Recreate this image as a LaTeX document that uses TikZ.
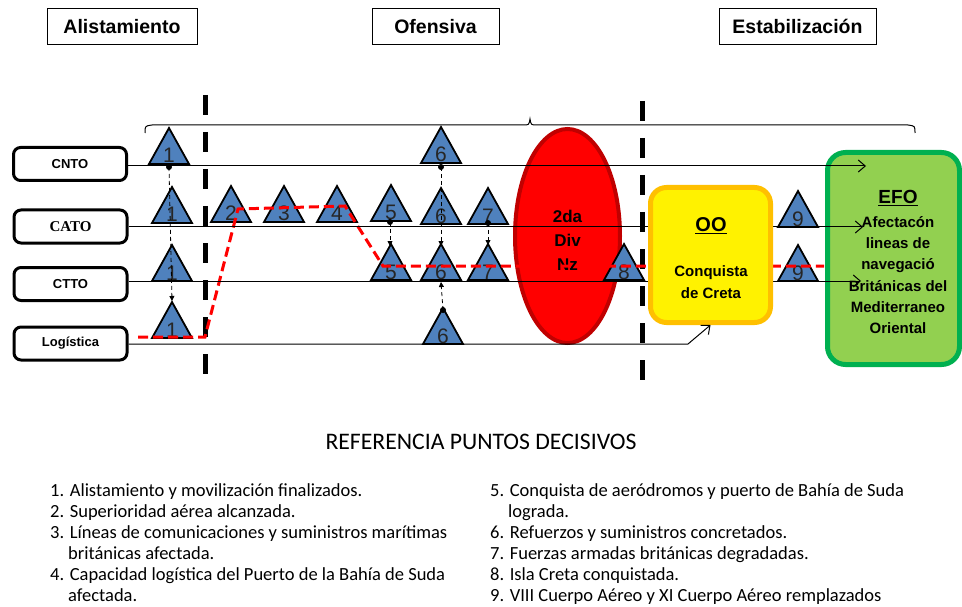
\documentclass[tikz,border=0pt]{standalone}
\usepackage{fontspec}
\setmainfont{Liberation Sans}
\newfontfamily\califont{Carlito}
\newfontfamily\timesfont{Liberation Serif}
\usetikzlibrary{shapes.geometric,arrows.meta}
\definecolor{triblue}{HTML}{4F81BD}
\definecolor{divborder}{HTML}{C00000}
\definecolor{oorange}{HTML}{FFC000}
\definecolor{efogreen}{HTML}{92D050}
\definecolor{efoborder}{HTML}{00B050}
\newcommand\dtri[4]{%
  \draw[tri] ({#1-20},#2) -- (#1,{#2-36}) -- ({#1+20},#2) -- cycle;
  \node[trinum] (#4) at (#1,{#2-1}) {#3};}
\begin{document}
\begin{tikzpicture}[x=1pt,y=-1pt,
  hdr/.style={draw=black, line width=0.8pt, fill=white, minimum height=36pt, inner sep=0pt, font=\fontsize{19.5}{23}\selectfont\bfseries},
  rowbox/.style={draw=black, line width=3pt, rounded corners=7pt, fill=white, minimum width=113pt, minimum height=33pt, inner sep=0pt, font=\fontsize{13}{15}\selectfont\bfseries},
  tri/.style={draw=black, line width=1.8pt, fill=triblue, line join=miter},
  trinum/.style={anchor=base, inner sep=0pt, font=\fontsize{21}{24}\selectfont, text=black!85},
  vdash/.style={line width=5pt, dash pattern=on 20pt off 17pt},
  reddash/.style={draw=red, line width=3pt, dash pattern=on 10pt off 5pt},
  rowline/.style={line width=1pt, -{Straight Barb[length=7pt,width=12pt]}},
  conn/.style={line width=0.8pt, dash pattern=on 4pt off 3pt, -{Triangle[length=5pt,width=5pt]}},
  dotpt/.style={circle, fill=black, inner sep=0pt, minimum size=6pt},
  listtxt/.style={anchor=base west, inner sep=0pt, font=\califont\fontsize{18.5}{22}\selectfont}
]
\useasboundingbox (0,0) rectangle (962,607);
\fill[white] (0,0) rectangle (962,607);

% header boxes
\node[hdr, minimum width=150pt] (hAli) at (122,26.5) {Alistamiento};
\node[hdr, minimum width=127pt] (hOfe) at (435.5,26.5) {Ofensiva};
\node[hdr, minimum width=157pt] (hEst) at (797.5,26.5) {Estabilización};

% brace
\draw[line width=1pt] (145,133) .. controls (145,126) .. (152,125) -- (523,125)
  .. controls (529,125) .. (530,119) .. controls (531,125) .. (537,125) -- (908,125)
  .. controls (915,126) .. (915,133);

% phase separators
\draw[vdash] (205,95) -- (205,381);
\draw[vdash] (642,101) -- (642,390);

% row boxes
\node[rowbox] (cnto) at (70,164) {CNTO};
\node[rowbox, font=\timesfont\fontsize{15}{17}\selectfont\bfseries] (cato) at (70.5,226.5) {CATO};
\node[rowbox] (ctto) at (70.5,284) {CTTO};
\node[rowbox] (logi) at (70.5,343.5) {Logística};

% ellipse
\node[ellipse, draw=divborder, line width=4pt, fill=red, minimum width=105pt, minimum height=214pt, inner sep=0pt] (div) at (567.5,236) {};
\node[align=center, inner sep=0pt, font=\fontsize{17}{24}\selectfont\bfseries] (divtxt) at (567.5,240) {2da\\Div\\Nz};

% EFO box
\node[draw=efoborder, line width=5pt, fill=efogreen, rounded corners=18pt, minimum width=132pt, minimum height=212pt] (efo) at (893.5,258.5) {};
\node[inner sep=0pt, font=\fontsize{19}{22}\selectfont\bfseries] (efotitle) at (898,198) {\underline{EFO}};
\node[align=center, inner sep=0pt, font=\fontsize{15}{21.2}\selectfont\bfseries] (efotxt) at (898,275) {Afectacón\\lineas de\\navegació\\Británicas del\\Mediterraneo\\Oriental};

% triangles
\dtri{169}{164}{1}{ta}
\dtri{172}{223}{1}{tb}
\dtri{172}{281}{1}{tc}
\dtri{172}{338}{1}{td}
\dtri{231}{222}{2}{tdos}
\dtri{284}{222}{3}{ttres}
\dtri{337}{222}{4}{tcuatro}
\dtri{391}{221}{5}{tcincoA}
\dtri{441}{163}{6}{tseisT}
\dtri{441}{224}{6}{tseisA}
\dtri{488}{224}{7}{tsieteA}
\dtri{391}{280}{5}{tcincoB}
\dtri{441}{280}{6}{tseisB}
\dtri{488}{280}{7}{tsieteB}
\dtri{443}{344}{6}{tseisC}
\dtri{624}{280}{8}{tocho}
\dtri{798}{227}{9}{tnueveA}
\dtri{798}{281}{9}{tnueveB}

% red dashed path
\coordinate (r0) at (138,337);
\coordinate (r1) at (205,337);
\coordinate (r2) at (238,209);
\coordinate (r3) at (345,206);
\coordinate (r4) at (383,266);
\coordinate (r5) at (824,266);
\draw[reddash] (r0) -- (r1) -- (r2) -- (r3) -- (r4) -- (r5);

% row lines
\coordinate (cntoend) at (866,166);
\coordinate (catoend) at (863,227);
\coordinate (cttoend) at (861,281);
\coordinate (logbend) at (688,344);
\draw[rowline] (cnto.east |- cntoend) -- (cntoend);
\draw[rowline] (cato.east |- catoend) -- (catoend);
\draw[rowline] (ctto.east |- cttoend) -- (cttoend);

% OO box
\node[draw=oorange, line width=5pt, fill=yellow, rounded corners=16pt, minimum width=120pt, minimum height=135pt] (oo) at (710.5,255) {};
\node[inner sep=0pt, font=\fontsize{20}{23}\selectfont\bfseries] (ootitle) at (711,226) {\underline{OO}};
\node[align=center, inner sep=0pt, font=\fontsize{15}{22}\selectfont\bfseries] (ootxt) at (711,282) {Conquista\\de Creta};
\draw[rowline] (logi.east |- logbend) -- (logbend) -- (oo.south);

% dotted connectors
\node[dotpt] (c1s) at (169,167) {};
\coordinate (c1e) at (172,301);
\draw[conn] (c1s.center) -- (c1e);
\node[dotpt] (c5s) at (390,222) {};
\coordinate (c5e) at (390,246);
\draw[conn] (c5s.center) -- (c5e);
\node[dotpt] (c6s) at (441,167) {};
\coordinate (c6e) at (441,246);
\draw[conn] (c6s.center) -- (c6e);
\node[dotpt] (c7s) at (488,223) {};
\coordinate (c7e) at (488,245);
\draw[conn] (c7s.center) -- (c7e);
\node[dotpt] (c6us) at (443,310) {};
\coordinate (c6ue) at (441,282);
\draw[conn] (c6us.center) -- (c6ue);

% reference text
\node[inner sep=0pt, font=\califont\fontsize{23.7}{28}\selectfont] (reftitle) at (481,442) {REFERENCIA PUNTOS DECISIVOS};

\node[listtxt] (l1) at (50,496) {1. Alistamiento y movilización finalizados.};
\node[listtxt] (l2) at (50,517) {2. Superioridad aérea alcanzada.};
\node[listtxt] (l3) at (50,538) {3. Líneas de comunicaciones y suministros marítimas};
\node[listtxt] (l3b) at (68,559) {británicas afectada.};
\node[listtxt] (l4) at (50,580) {4. Capacidad logística del Puerto de la Bahía de Suda};
\node[listtxt] (l4b) at (68,601) {afectada.};

\node[listtxt] (l5) at (490,496) {5. Conquista de aeródromos y puerto de Bahía de Suda};
\node[listtxt] (l5b) at (508,517) {lograda.};
\node[listtxt] (l6) at (490,538) {6. Refuerzos y suministros concretados.};
\node[listtxt] (l7) at (490,559) {7. Fuerzas armadas británicas degradadas.};
\node[listtxt] (l8) at (490,580) {8. Isla Creta conquistada.};
\node[listtxt] (l9) at (490,601) {9. VIII Cuerpo Aéreo y XI Cuerpo Aéreo remplazados};
\end{tikzpicture}
\end{document}
